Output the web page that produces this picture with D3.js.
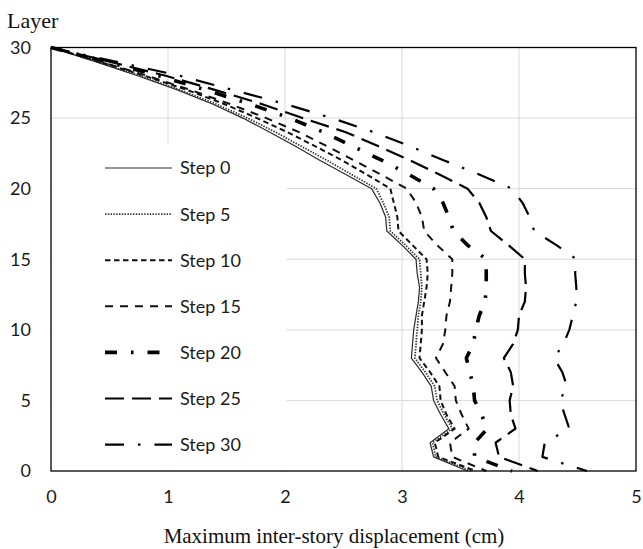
<!DOCTYPE html>
<html>
<head>
<meta charset="utf-8">
<script src="https://cdn.jsdelivr.net/npm/d3@7/dist/d3.min.js"></script>
<style>
  html, body { margin: 0; padding: 0; background: #fff; }
  svg { display: block; }
</style>
</head>
<body>
<div id="chart"></div>
<script>
// Layers 0..30 (bottom to top)
const layers = d3.range(0, 31);

// Maximum inter-story displacement (cm) per layer, index = layer number
const step0  = [3.56, 3.27, 3.24, 3.40, 3.33, 3.27, 3.25, 3.17, 3.08, 3.09, 3.10, 3.12, 3.14, 3.15, 3.13, 3.12, 3.00, 2.87, 2.86, 2.81, 2.74, 2.52, 2.30, 2.09, 1.87, 1.64, 1.38, 1.08, 0.74, 0.38, 0];
const step5  = [3.59, 3.29, 3.26, 3.43, 3.36, 3.30, 3.28, 3.20, 3.11, 3.12, 3.13, 3.14, 3.16, 3.17, 3.16, 3.15, 3.03, 2.90, 2.89, 2.84, 2.78, 2.57, 2.36, 2.14, 1.92, 1.68, 1.41, 1.10, 0.76, 0.39, 0];
const step10 = [3.63, 3.31, 3.28, 3.45, 3.38, 3.33, 3.32, 3.24, 3.15, 3.16, 3.17, 3.17, 3.19, 3.21, 3.22, 3.21, 3.09, 2.97, 2.96, 2.93, 2.90, 2.70, 2.49, 2.26, 2.02, 1.76, 1.48, 1.16, 0.80, 0.41, 0];
const step15 = [3.72, 3.43, 3.41, 3.57, 3.51, 3.46, 3.45, 3.37, 3.29, 3.35, 3.37, 3.38, 3.41, 3.42, 3.43, 3.43, 3.30, 3.19, 3.17, 3.12, 3.04, 2.82, 2.59, 2.36, 2.12, 1.84, 1.53, 1.19, 0.82, 0.42, 0];
const step20 = [3.94, 3.62, 3.62, 3.73, 3.68, 3.62, 3.61, 3.58, 3.55, 3.61, 3.63, 3.66, 3.71, 3.72, 3.72, 3.72, 3.56, 3.44, 3.40, 3.35, 3.27, 3.06, 2.83, 2.58, 2.33, 2.04, 1.70, 1.32, 0.92, 0.47, 0];
const step25 = [4.16, 3.83, 3.80, 3.97, 3.93, 3.92, 3.95, 3.93, 3.87, 3.95, 3.99, 4.00, 4.05, 4.06, 4.05, 4.05, 3.91, 3.76, 3.72, 3.66, 3.56, 3.32, 3.07, 2.80, 2.52, 2.15, 1.80, 1.40, 0.98, 0.50, 0];
const step30 = [4.58, 4.20, 4.22, 4.43, 4.39, 4.35, 4.41, 4.37, 4.30, 4.38, 4.43, 4.46, 4.49, 4.49, 4.48, 4.49, 4.32, 4.13, 4.09, 4.03, 3.94, 3.66, 3.36, 3.07, 2.76, 2.40, 2.00, 1.55, 1.10, 0.55, 0];

const seriesNames = ["Step 0", "Step 5", "Step 10", "Step 15", "Step 20", "Step 25", "Step 30"];
const seriesValues = [step0, step5, step10, step15, step20, step25, step30];

const xTicks = [0, 1, 2, 3, 4, 5];
const yTicks = [0, 5, 10, 15, 20, 25, 30];

// Line styles for each series
const styles = [
  { width: 1.2, dash: null,           color: "#2a2a2a" },
  { width: 1.8, dash: "1.4,1.4",      color: "#333" },
  { width: 2.0, dash: "5.5,3.5",      color: "#111" },
  { width: 2.0, dash: "8,7",          color: "#111" },
  { width: 3.6, dash: "12,14,2.5,14", color: "#000" },
  { width: 2.2, dash: "19,8",         color: "#000" },
  { width: 2.2, dash: "19,14,2.5,14", color: "#000" }
];

const W = 643, H = 549;
const plot = { left: 51, right: 636, top: 47.5, bottom: 471 };

const svg = d3.select("#chart").append("svg")
  .attr("width", W).attr("height", H);

const x = d3.scaleLinear().domain([0, 5]).range([plot.left, plot.right]);
const y = d3.scaleLinear().domain([0, 30]).range([plot.bottom, plot.top]);

// Gridlines
const grid = svg.append("g");
grid.selectAll("line.gx").data(xTicks.slice(1, -1)).join("line")
  .attr("x1", d => x(d)).attr("x2", d => x(d))
  .attr("y1", plot.top).attr("y2", plot.bottom)
  .attr("stroke", "#d9d9d9").attr("stroke-width", 1);
grid.selectAll("line.gy").data(yTicks.slice(1, -1)).join("line")
  .attr("x1", plot.left).attr("x2", plot.right)
  .attr("y1", d => y(d)).attr("y2", d => y(d))
  .attr("stroke", "#d9d9d9").attr("stroke-width", 1);

// Axes (labels only)
const xAxis = svg.append("g")
  .attr("transform", `translate(0,${plot.bottom})`)
  .call(d3.axisBottom(x).tickValues(xTicks).tickSize(0).tickPadding(19).tickFormat(d3.format("d")));
const yAxis = svg.append("g")
  .attr("transform", `translate(${plot.left},0)`)
  .call(d3.axisLeft(y).tickValues(yTicks).tickSize(0).tickPadding(20).tickFormat(d3.format("d")));
[xAxis, yAxis].forEach(a => {
  a.select(".domain").remove();
  a.selectAll("text")
    .attr("font-family", "Lato, 'Open Sans', sans-serif")
    .attr("font-size", 18)
    .attr("fill", "#1a1a1a");
});

// Legend panel (white box over the grid)
svg.append("rect")
  .attr("x", plot.left + 1).attr("y", 143)
  .attr("width", 286.5 - plot.left - 1).attr("height", plot.bottom - 143 - 1)
  .attr("fill", "#fff");

// Series lines
const line = d3.line()
  .x(d => x(d[0]))
  .y(d => y(d[1]));

seriesValues.forEach((vals, i) => {
  const st = styles[i];
  const pts = layers.slice().reverse().map(l => [vals[l], l]);
  svg.append("path")
    .datum(pts)
    .attr("d", line)
    .attr("fill", "none")
    .attr("stroke", st.color)
    .attr("stroke-width", st.width)
    .attr("stroke-dasharray", st.dash)
    .attr("stroke-linejoin", "round");
});

// Plot border
svg.append("rect")
  .attr("x", plot.left).attr("y", plot.top)
  .attr("width", plot.right - plot.left).attr("height", plot.bottom - plot.top)
  .attr("fill", "none").attr("stroke", "#000").attr("stroke-width", 1.3);

// Legend entries
const legY0 = 168, legStep = 46.1;
const leg = svg.append("g");
seriesNames.forEach((name, i) => {
  const st = styles[i];
  const yy = legY0 + i * legStep;
  leg.append("line")
    .attr("x1", 105).attr("x2", 172)
    .attr("y1", yy).attr("y2", yy)
    .attr("stroke", st.color)
    .attr("stroke-width", st.width)
    .attr("stroke-dasharray", st.dash);
  leg.append("text")
    .attr("x", 180).attr("y", yy)
    .attr("dy", "0.36em")
    .attr("font-family", "Lato, 'Open Sans', sans-serif")
    .attr("font-size", 18)
    .attr("fill", "#1a1a1a")
    .text(name);
});

// Axis titles
svg.append("text")
  .attr("x", 7).attr("y", 28)
  .attr("font-family", "'Liberation Serif', 'Times New Roman', serif")
  .attr("font-size", 22)
  .attr("fill", "#111")
  .text("Layer");

svg.append("text")
  .attr("x", 334).attr("y", 543)
  .attr("text-anchor", "middle")
  .attr("font-family", "'Liberation Serif', 'Times New Roman', serif")
  .attr("font-size", 21)
  .attr("fill", "#111")
  .text("Maximum inter-story displacement (cm)");
</script>
</body>
</html>
